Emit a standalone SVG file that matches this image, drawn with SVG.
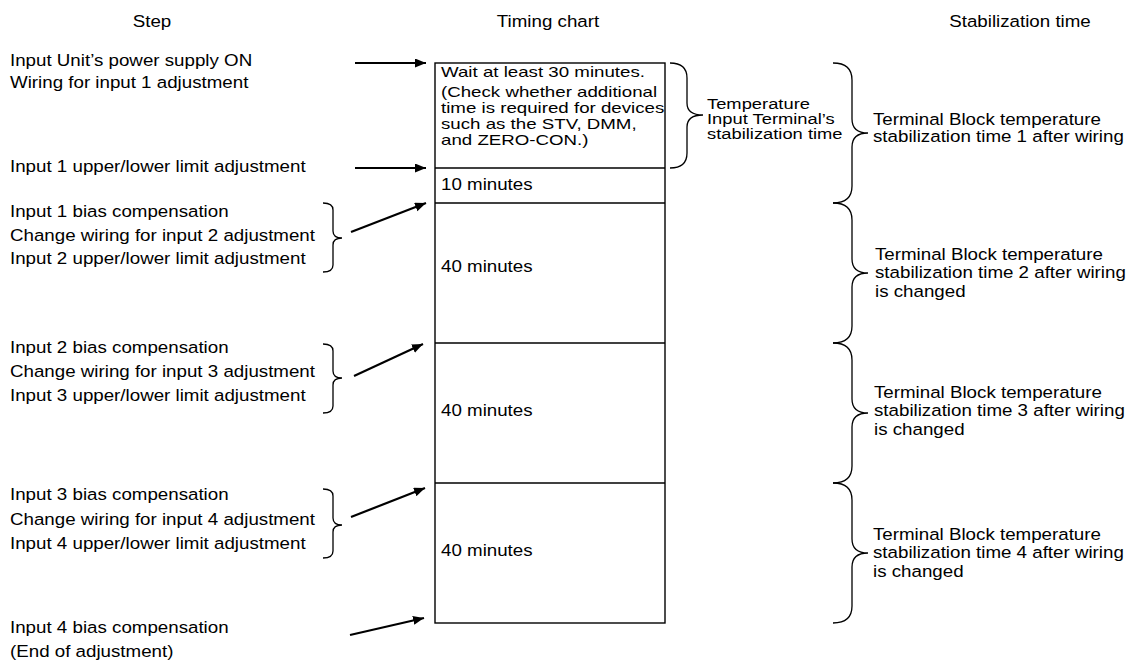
<svg xmlns="http://www.w3.org/2000/svg" width="1129" height="661" viewBox="0 0 1129 661">
<style>
.t{font-family:"Liberation Sans",Arial,Helvetica,sans-serif;font-size:16.3px;fill:#000}
.s{font-size:13.9px}
.h{text-anchor:middle}
.box{fill:#fff;stroke:#000;stroke-width:1.4}
.br{fill:none;stroke:#000;stroke-width:1.3}
.ar{fill:none;stroke:#000;stroke-width:2.2}
</style>
<defs>
<marker id="ah" markerUnits="userSpaceOnUse" markerWidth="12" markerHeight="10" refX="11" refY="4.5" orient="auto">
<path d="M0,0 L11,4.5 L0,9 z" fill="#000"/>
</marker>
</defs>
<rect width="1129" height="661" fill="#fff"/>

<g id="headers">
<text class="t h" transform="matrix(1.15 0 0 1 152 27)">Step</text>
<text class="t h" transform="matrix(1.15 0 0 1 548 27)">Timing chart</text>
<text class="t h" transform="matrix(1.15 0 0 1 1020 27)">Stabilization time</text>
</g>

<g id="step1">
<text class="t" transform="matrix(1.15 0 0 1 10 66)"><tspan x="0" y="0">Input Unit’s power supply ON</tspan><tspan x="0" y="22">Wiring for input 1 adjustment</tspan></text>
</g>
<g id="step2">
<text class="t" transform="matrix(1.15 0 0 1 10 172)">Input 1 upper/lower limit adjustment</text>
</g>
<g id="step3">
<text class="t" transform="matrix(1.15 0 0 1 10 217)"><tspan x="0" y="0">Input 1 bias compensation</tspan><tspan x="0" y="24">Change wiring for input 2 adjustment</tspan><tspan x="0" y="47">Input 2 upper/lower limit adjustment</tspan></text>
<path class="br" d="M323,203 Q333,203 333,210 L333,231 Q333,238 342,238 Q333,238 333,245 L333,265 Q333,272 323,272"/>
</g>
<g id="step4">
<text class="t" transform="matrix(1.15 0 0 1 10 353)"><tspan x="0" y="0">Input 2 bias compensation</tspan><tspan x="0" y="24">Change wiring for input 3 adjustment</tspan><tspan x="0" y="48">Input 3 upper/lower limit adjustment</tspan></text>
<path class="br" d="M323,344 Q333,344 333,351 L333,371 Q333,378 342,378 Q333,378 333,385 L333,406 Q333,413 323,413"/>
</g>
<g id="step5">
<text class="t" transform="matrix(1.15 0 0 1 10 500)"><tspan x="0" y="0">Input 3 bias compensation</tspan><tspan x="0" y="25">Change wiring for input 4 adjustment</tspan><tspan x="0" y="49">Input 4 upper/lower limit adjustment</tspan></text>
<path class="br" d="M323,489 Q333,489 333,496 L333,518 Q333,525 342,525 Q333,525 333,532 L333,551 Q333,558 323,558"/>
</g>
<g id="step6">
<text class="t" transform="matrix(1.15 0 0 1 10 633)"><tspan x="0" y="0">Input 4 bias compensation</tspan><tspan x="0" y="24">(End of adjustment)</tspan></text>
</g>

<g id="timing-chart">
<rect class="box" x="435" y="63" width="230" height="560"/>
<line class="box" x1="435" y1="168" x2="665" y2="168"/>
<line class="box" x1="435" y1="203" x2="665" y2="203"/>
<line class="box" x1="435" y1="343" x2="665" y2="343"/>
<line class="box" x1="435" y1="483" x2="665" y2="483"/>
</g>
<g id="block-wait">
<text class="t s" transform="matrix(1.345 0 0 1 441 77)"><tspan x="0" y="0">Wait at least 30 minutes.</tspan><tspan x="0" y="20">(Check whether additional</tspan><tspan x="0" y="36">time is required for devices</tspan><tspan x="0" y="52">such as the STV, DMM,</tspan><tspan x="0" y="68">and ZERO-CON.)</tspan></text>
</g>
<g id="block-10">
<text class="t" transform="matrix(1.15 0 0 1 441 190)">10 minutes</text>
</g>
<g id="block-40a">
<text class="t" transform="matrix(1.15 0 0 1 441 272)">40 minutes</text>
</g>
<g id="block-40b">
<text class="t" transform="matrix(1.15 0 0 1 441 416)">40 minutes</text>
</g>
<g id="block-40c">
<text class="t" transform="matrix(1.15 0 0 1 441 556)">40 minutes</text>
</g>

<g id="terminal-stab">
<path class="br" d="M670,63 Q687,63 687,78 L687,103 Q687,115 703,115 Q687,115 687,127 L687,153 Q687,168 670,168"/>
<text class="t s" transform="matrix(1.32 0 0 1 707 109)"><tspan x="0" y="0">Temperature</tspan><tspan x="0" y="15">Input Terminal’s</tspan><tspan x="0" y="30">stabilization time</tspan></text>
</g>

<g id="stab1">
<path class="br" d="M833,63 Q852,63 852,80 L852,119 Q852,133 868,133 Q852,133 852,147 L852,186 Q852,203 833,203"/>
<text class="t" transform="matrix(1.15 0 0 1 873 125)"><tspan x="0" y="0">Terminal Block temperature</tspan><tspan x="0" y="17">stabilization time 1 after wiring</tspan></text>
</g>
<g id="stab2">
<path class="br" d="M833,203 Q852,203 852,220 L852,259 Q852,273 868,273 Q852,273 852,287 L852,326 Q852,343 833,343"/>
<text class="t" transform="matrix(1.15 0 0 1 875 260)"><tspan x="0" y="0">Terminal Block temperature</tspan><tspan x="0" y="18.5">stabilization time 2 after wiring</tspan><tspan x="0" y="37">is changed</tspan></text>
</g>
<g id="stab3">
<path class="br" d="M833,343 Q852,343 852,360 L852,399 Q852,413 868,413 Q852,413 852,427 L852,466 Q852,483 833,483"/>
<text class="t" transform="matrix(1.15 0 0 1 874 398)"><tspan x="0" y="0">Terminal Block temperature</tspan><tspan x="0" y="18.5">stabilization time 3 after wiring</tspan><tspan x="0" y="37">is changed</tspan></text>
</g>
<g id="stab4">
<path class="br" d="M833,483 Q852,483 852,500 L852,539 Q852,553 868,553 Q852,553 852,567 L852,606 Q852,623 833,623"/>
<text class="t" transform="matrix(1.15 0 0 1 873 540)"><tspan x="0" y="0">Terminal Block temperature</tspan><tspan x="0" y="18.5">stabilization time 4 after wiring</tspan><tspan x="0" y="37">is changed</tspan></text>
</g>

<g id="connectors">
<line class="ar" x1="355" y1="63" x2="426" y2="63" marker-end="url(#ah)"/>
<line class="ar" x1="355" y1="168" x2="426" y2="168" marker-end="url(#ah)"/>
<line class="ar" x1="351" y1="232" x2="426" y2="203" marker-end="url(#ah)"/>
<line class="ar" x1="354" y1="376" x2="423" y2="344" marker-end="url(#ah)"/>
<line class="ar" x1="351" y1="517" x2="425" y2="488" marker-end="url(#ah)"/>
<line class="ar" x1="350" y1="635" x2="424" y2="618" marker-end="url(#ah)"/>
</g>
</svg>
